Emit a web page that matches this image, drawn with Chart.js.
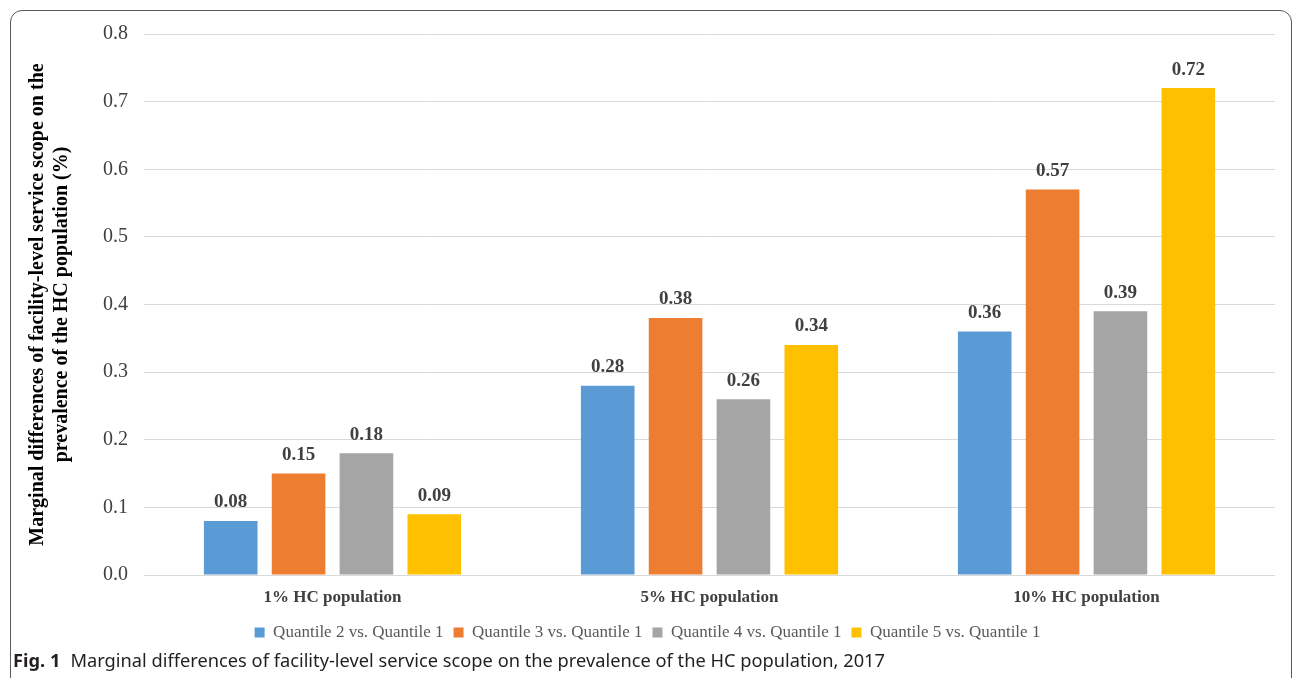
<!DOCTYPE html>
<html>
<head>
<meta charset="utf-8">
<script src="https://cdn.jsdelivr.net/npm/chart.js@4/dist/chart.umd.min.js"></script>
<style>
  html, body { margin: 0; padding: 0; background: #fff; width: 1293px; height: 678px; overflow: hidden; }
  #frame { position: absolute; left: 10px; top: 10px; width: 1282px; height: 690px; border: 1.5px solid #5a5a5a; border-radius: 12px; box-sizing: border-box; }
  #wrap { position: absolute; left: 0; top: 0; width: 1293px; height: 655px; }
  #caption { position: absolute; left: 13px; top: 650px; font-family: "Noto Sans", sans-serif; font-size: 18px; line-height: 20px; color: #231f20; white-space: nowrap; transform-origin: left top; }
  #caption b { font-weight: 700; margin-right: 10px; }
</style>
</head>
<body>
<div id="frame"></div>
<div id="wrap"><canvas id="chart"></canvas></div>
<div id="caption"><b>Fig. 1</b>Marginal differences of facility-level service scope on the prevalence of the HC population, 2017</div>
<script>
const categories = ['1% HC population', '5% HC population', '10% HC population'];
const seriesNames = ['Quantile 2 vs. Quantile 1', 'Quantile 3 vs. Quantile 1', 'Quantile 4 vs. Quantile 1', 'Quantile 5 vs. Quantile 1'];
const quantile2 = [0.08, 0.28, 0.36];
const quantile3 = [0.15, 0.38, 0.57];
const quantile4 = [0.18, 0.26, 0.39];
const quantile5 = [0.09, 0.34, 0.72];
const seriesColors = ['#5B9BD5', '#ED7D31', '#A5A5A5', '#FFC000'];
const yMin = 0, yMax = 0.8, yStep = 0.1;
const yTitle = ['Marginal differences of facility-level service scope on the', 'prevalence of the HC population (%)'];

const serif = "'Liberation Serif', 'Times New Roman', serif";

// value labels above each bar
const valueLabels = {
  id: 'valueLabels',
  afterDatasetsDraw(chart) {
    const ctx = chart.ctx;
    ctx.save();
    ctx.font = "bold 19px " + serif;
    ctx.fillStyle = '#404040';
    ctx.textAlign = 'center';
    ctx.textBaseline = 'bottom';
    chart.data.datasets.forEach((ds, i) => {
      chart.getDatasetMeta(i).data.forEach((bar, j) => {
        ctx.fillText(ds.data[j].toFixed(2), bar.x, bar.y - 9);
      });
    });
    ctx.restore();
  }
};

// fixed legend band height
const legendHeight = {
  id: 'legendHeight',
  beforeInit(chart) {
    const fit = chart.legend.fit;
    chart.legend.fit = function () {
      fit.call(this);
      this.height = 37;
    };
  }
};

const seriesData = [quantile2, quantile3, quantile4, quantile5];

new Chart(document.getElementById('chart'), {
  type: 'bar',
  data: {
    labels: categories,
    datasets: seriesNames.map((name, i) => ({
      label: name,
      data: seriesData[i],
      backgroundColor: seriesColors[i],
      borderWidth: 0,
      categoryPercentage: 0.72,
      barPercentage: 0.79
    }))
  },
  options: {
    responsive: true,
    maintainAspectRatio: false,
    animation: false,
    layout: { padding: { left: 20, right: 18, top: 34, bottom: 4 } },
    plugins: {
      legend: {
        position: 'bottom',
        labels: {
          font: { family: serif, size: 17 },
          color: '#595959',
          boxWidth: 10,
          boxHeight: 10,
          padding: 10
        }
      },
      tooltip: { enabled: false }
    },
    scales: {
      x: {
        grid: { display: false, drawTicks: false },
        border: { display: false },
        ticks: { font: { family: serif, size: 17, weight: 'bold' }, color: '#404040', padding: 12 },
        afterFit(scale) { scale.height = 39; }
      },
      y: {
        min: yMin,
        max: yMax,
        grid: { color: '#d9d9d9', lineWidth: 1, drawTicks: false },
        border: { display: false },
        ticks: {
          stepSize: yStep,
          font: { family: serif, size: 20 },
          color: '#404040',
          padding: 16,
          callback: v => Number(v).toFixed(1)
        },
        title: {
          display: true,
          text: yTitle,
          font: { family: serif, size: 20, weight: 'bold', lineHeight: 1.2 },
          color: '#000',
          padding: { top: 6, bottom: 0 }
        },
        afterFit(scale) { scale.width = 124; }
      }
    }
  },
  plugins: [valueLabels, legendHeight]
});

// fit caption to its line width
const cap = document.getElementById('caption');
const w = cap.getBoundingClientRect().width;
cap.style.transform = 'scaleX(' + (872 / w) + ')';
</script>
</body>
</html>
